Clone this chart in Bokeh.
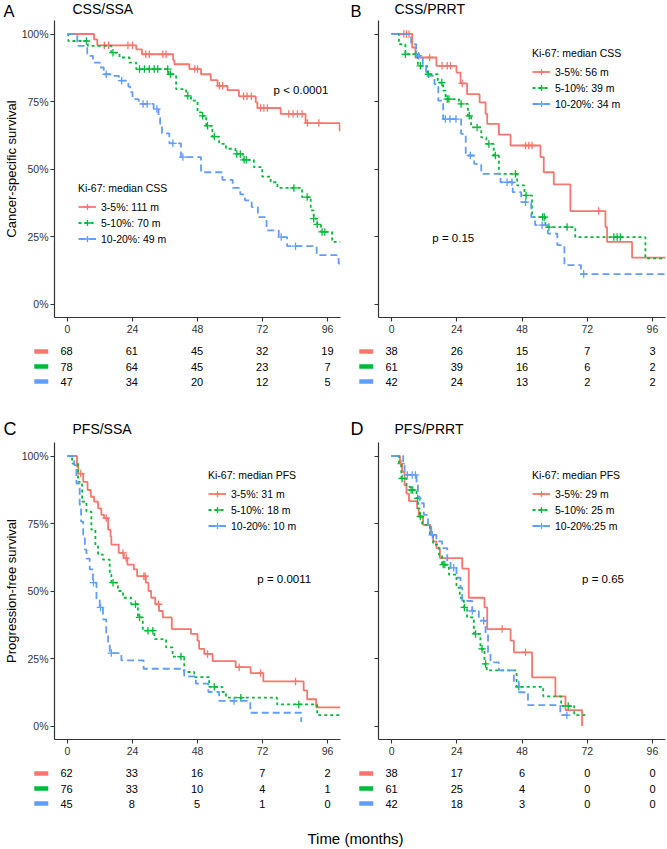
import numpy as np
from bokeh.plotting import figure
from bokeh.models import (Range1d, FixedTicker, NumeralTickFormatter, Legend, LegendItem,
                          Label, CustomJSTickFormatter)
from bokeh.layouts import column, row
from bokeh.embed import file_html
from bokeh.resources import INLINE
from bokeh.core.properties import value

FONT = "Liberation Sans"
groups = ["3-5%", "5-10%", "10-20%"]
colors = ["#F8766D", "#00BA38", "#619CFF"]
dashes = ["solid", "3 3", "7 4"]
risk_times = [0, 24, 48, 72, 96]

# ---------------- Panel A : CSS / SSA ----------------
a_red_t = [0, 9.8, 11.0, 25.4, 27.5, 39.0, 39.5, 45.0, 49.3, 52.9, 55.4, 59.1, 63.3, 69.5, 70.1, 78.7, 87.9, 100.5]
a_red_s = [1.0, 0.980, 0.958, 0.943, 0.925, 0.903, 0.888, 0.870, 0.851, 0.829, 0.808, 0.792, 0.769, 0.747, 0.726, 0.704, 0.670, 0.642]
a_red_c = [13.6, 15.2, 22.3, 24.0, 28.9, 30.2, 35.2, 36.4, 47.0, 48.0, 56.1, 57.3, 65.0, 66.3, 67.9, 71.3, 72.5, 73.8, 81.7, 83.3, 84.9, 86.6, 88.6, 92.8]
a_grn_t = [0, 0.3, 7.5, 16.2, 19.2, 22.9, 25.4, 37.3, 40.1, 43.8, 45.6, 48.0, 49.5, 51.2, 53.5, 56.0, 58.5, 62.0, 64.8, 68.8, 71.9, 75.0, 77.5, 86.6, 89.8, 90.9, 92.2, 93.6, 97.7]
a_grn_s = [1.0, 0.974, 0.956, 0.931, 0.913, 0.894, 0.870, 0.851, 0.796, 0.771, 0.753, 0.710, 0.697, 0.660, 0.620, 0.593, 0.575, 0.556, 0.534, 0.507, 0.472, 0.451, 0.430, 0.396, 0.347, 0.316, 0.295, 0.267, 0.230]
a_grn_c = [7.0, 16.8, 26.6, 28.4, 30.2, 32.0, 33.3, 37.0, 38.0, 44.4, 49.9, 51.7, 54.2, 62.5, 63.8, 65.2, 66.0, 83.6, 88.5, 90.9, 92.2, 94.0, 95.0]
a_blu_t = [0, 3.6, 7.3, 9.4, 12.0, 13.4, 16.5, 19.0, 22.5, 23.2, 24.0, 26.3, 31.8, 33.6, 34.2, 34.9, 37.6, 41.9, 49.3, 57.2, 61.0, 63.8, 65.5, 68.0, 70.3, 73.5, 78.0, 81.1, 92.0, 100.1]
a_blu_s = [1.0, 0.956, 0.919, 0.894, 0.876, 0.851, 0.845, 0.827, 0.805, 0.785, 0.759, 0.741, 0.722, 0.690, 0.660, 0.632, 0.595, 0.544, 0.488, 0.460, 0.430, 0.406, 0.384, 0.359, 0.322, 0.273, 0.248, 0.214, 0.181, 0.150]
a_blu_c = [14.3, 20.0, 27.9, 29.4, 33.0, 38.9, 42.6, 78.9, 84.2]
a_ends = [100.8, 100.8, 100.8]
a_risk = [[68, 61, 45, 32, 19], [78, 64, 45, 23, 7], [47, 34, 20, 12, 5]]
a_labels = ["3-5%: 111 m", "5-10%: 70 m", "10-20%: 49 m"]

# ---------------- Panel B : CSS / PRRT ----------------
b_red_t = [0, 7.6, 8.8, 16.5, 23.9, 25.4, 27.8, 32.4, 34.6, 35.2, 39.5, 43.8, 54.8, 56.0, 59.7, 65.8, 78.7, 79.3, 88.5]
b_red_s = [1.0, 0.950, 0.913, 0.882, 0.857, 0.817, 0.777, 0.747, 0.704, 0.667, 0.627, 0.587, 0.544, 0.488, 0.443, 0.344, 0.285, 0.230, 0.172]
b_red_c = [4.5, 5.5, 6.4, 14.0, 18.6, 20.5, 21.7, 26.0, 49.3, 50.5, 51.7, 76.2]
b_grn_t = [0, 2.7, 5.1, 9.7, 13.1, 17.0, 19.0, 19.9, 24.8, 28.1, 29.3, 33.0, 34.9, 37.6, 39.5, 46.2, 48.9, 51.7, 56.6, 67.6, 93.4]
b_grn_s = [1.0, 0.962, 0.925, 0.882, 0.851, 0.820, 0.790, 0.759, 0.741, 0.697, 0.654, 0.617, 0.593, 0.550, 0.482, 0.439, 0.402, 0.322, 0.285, 0.248, 0.169]
b_grn_c = [5.1, 9.0, 10.6, 13.6, 18.5, 20.5, 21.1, 25.6, 28.6, 31.5, 35.8, 38.2, 45.6, 49.5, 55.6, 56.2, 57.9, 64.6, 81.8, 83.0, 84.2]
b_blu_t = [0, 7.2, 9.1, 11.5, 12.7, 15.8, 17.2, 19.0, 25.6, 27.3, 30.4, 33.0, 40.1, 44.6, 47.7, 51.4, 52.8, 57.5, 61.0, 63.6, 69.7]
b_blu_s = [1.0, 0.962, 0.919, 0.882, 0.845, 0.814, 0.753, 0.685, 0.630, 0.550, 0.519, 0.482, 0.451, 0.414, 0.377, 0.322, 0.292, 0.261, 0.218, 0.144, 0.111]
b_blu_c = [10.0, 19.8, 21.5, 23.7, 29.0, 42.5, 44.3, 49.3, 55.4, 70.7]
b_ends = [100.8, 100.8, 100.8]
b_risk = [[38, 26, 15, 7, 3], [61, 39, 16, 6, 2], [42, 24, 13, 2, 2]]
b_labels = ["3-5%: 56 m", "5-10%: 39 m", "10-20%: 34 m"]

# ---------------- Panel C : PFS / SSA ----------------
c_red_t = [0, 3.5, 4.0, 5.8, 7.4, 8.6, 9.8, 11.3, 12.5, 13.5, 15.0, 15.9, 16.2, 18.9, 20.8, 22.1, 24.5, 25.7, 28.9, 29.9, 30.9, 32.4, 33.8, 35.2, 38.5, 45.6, 48.0, 48.6, 50.5, 53.6, 62.1, 67.6, 72.3, 87.2, 88.5, 91.8]
c_red_s = [1.0, 0.960, 0.935, 0.904, 0.874, 0.849, 0.831, 0.806, 0.782, 0.770, 0.727, 0.702, 0.672, 0.641, 0.622, 0.598, 0.580, 0.555, 0.531, 0.500, 0.475, 0.451, 0.426, 0.402, 0.359, 0.341, 0.316, 0.286, 0.267, 0.240, 0.218, 0.196, 0.165, 0.132, 0.099, 0.069]
c_red_c = [4.9, 14.3, 20.5, 21.7, 28.2, 28.7, 33.6, 51.7, 63.4, 71.3, 84.2]
c_grn_t = [0, 1.7, 3.9, 5.4, 7.0, 8.8, 10.3, 11.3, 13.1, 15.6, 16.2, 18.6, 20.5, 23.5, 26.0, 27.8, 32.1, 36.4, 38.8, 43.1, 46.8, 52.3, 57.2, 58.5, 77.4, 92.2]
c_grn_s = [1.0, 0.972, 0.904, 0.831, 0.794, 0.727, 0.665, 0.635, 0.616, 0.561, 0.531, 0.500, 0.475, 0.451, 0.402, 0.353, 0.322, 0.291, 0.257, 0.200, 0.181, 0.145, 0.126, 0.105, 0.080, 0.040]
c_grn_c = [16.8, 25.1, 26.6, 29.7, 31.5, 41.9, 54.2, 64.0, 85.4]
c_blu_t = [0, 2.5, 3.3, 4.5, 5.0, 5.8, 6.4, 7.0, 8.2, 9.4, 10.7, 11.9, 13.1, 14.3, 15.0, 15.6, 19.9, 28.1, 43.1, 47.4, 52.0, 56.0, 67.5, 86.3]
c_blu_s = [1.0, 0.966, 0.898, 0.819, 0.757, 0.696, 0.653, 0.620, 0.580, 0.531, 0.469, 0.439, 0.395, 0.341, 0.305, 0.270, 0.243, 0.212, 0.184, 0.157, 0.126, 0.093, 0.049, 0.015]
c_blu_c = [9.6, 12.2, 16.2, 61.5]
c_ends = [100.8, 100.8, 86.3]
c_risk = [[62, 33, 16, 7, 2], [76, 33, 10, 4, 1], [45, 8, 5, 1, 0]]
c_labels = ["3-5%: 31 m", "5-10%: 18 m", "10-20%: 10 m"]

# ---------------- Panel D : PFS / PRRT ----------------
d_red_t = [0, 3.1, 3.9, 4.8, 5.5, 6.4, 9.4, 10.0, 11.6, 14.3, 15.3, 16.5, 17.8, 26.0, 28.4, 34.2, 35.2, 43.8, 45.0, 51.7, 60.3, 64.0, 70.1]
d_red_s = [1.0, 0.972, 0.941, 0.892, 0.861, 0.833, 0.806, 0.776, 0.745, 0.708, 0.684, 0.659, 0.622, 0.583, 0.475, 0.439, 0.359, 0.316, 0.273, 0.180, 0.110, 0.059, 0.0]
d_red_c = [3.5, 40.7, 49.3]
d_grn_t = [0, 2.7, 3.6, 5.5, 7.0, 9.2, 9.7, 10.4, 11.3, 14.1, 15.3, 17.4, 18.6, 21.1, 23.9, 25.1, 26.6, 27.8, 30.3, 32.7, 34.2, 35.0, 46.0, 55.8, 62.4, 67.2]
d_grn_s = [1.0, 0.972, 0.917, 0.886, 0.874, 0.843, 0.806, 0.776, 0.745, 0.708, 0.672, 0.635, 0.598, 0.561, 0.512, 0.475, 0.439, 0.402, 0.341, 0.286, 0.230, 0.206, 0.145, 0.110, 0.074, 0.040]
d_grn_c = [3.9, 7.2, 7.8, 9.6, 10.6, 19.0, 19.6, 26.8, 30.9, 33.3, 34.6, 46.8, 65.0]
d_blu_t = [0, 4.3, 4.8, 9.2, 9.7, 10.4, 11.9, 13.4, 14.6, 16.5, 18.6, 20.5, 21.7, 23.9, 25.4, 26.0, 29.7, 32.1, 34.6, 35.5, 36.4, 39.5, 45.0, 46.8, 50.2, 62.1]
d_blu_s = [1.0, 0.966, 0.930, 0.904, 0.849, 0.825, 0.782, 0.745, 0.708, 0.684, 0.659, 0.610, 0.586, 0.549, 0.512, 0.463, 0.426, 0.390, 0.341, 0.270, 0.236, 0.206, 0.165, 0.125, 0.077, 0.040]
d_blu_c = [5.8, 7.6, 8.8, 15.0, 22.9, 29.7, 33.9, 64.5]
d_ends = [70.1, 71.5, 65.8]
d_risk = [[38, 17, 6, 0, 0], [61, 25, 4, 0, 0], [42, 18, 3, 0, 0]]
d_labels = ["3-5%: 29 m", "5-10%: 25 m", "10-20%:25 m"]

# ---------------- layout constants ----------------
FW, FH, AXH, RH = 287, 297, 20, 58
XMIN, XMAX = -4.8, 100.8
YMIN, YMAX = -0.05, 1.05
LB_L, RB_L = 53, 10
LB_R, RB_R = 28, 1
PPM = FW / (XMAX - XMIN)
W_L = LB_L + FW + RB_L
W_R = LB_R + FW + RB_R
TOTAL_W = W_L + W_R
AXIS_COL = "#333333"


def surv_at(t, s, x):
    idx = np.searchsorted(np.asarray(t), np.asarray(x), side="right") - 1
    return np.asarray(s)[idx]


def km_fig(curves, cens, ends, labels, leg_title, leg_loc, ptext, pxy, ylabel):
    left = ylabel is not None
    lb = LB_L if left else LB_R
    rb = RB_L if left else RB_R
    p = figure(width=lb + FW + rb, height=FH + AXH, title=None,
               x_range=Range1d(XMIN, XMAX), y_range=Range1d(YMIN, YMAX),
               output_backend="svg", toolbar_location=None,
               min_border_left=lb, min_border_right=rb,
               min_border_top=0, min_border_bottom=AXH)
    p.grid.visible = False
    p.outline_line_color = None
    p.background_fill_color = "white"
    p.border_fill_color = "white"
    p.xaxis.ticker = FixedTicker(ticks=risk_times)
    p.yaxis.ticker = FixedTicker(ticks=[0, 0.25, 0.5, 0.75, 1.0])
    p.yaxis.formatter = NumeralTickFormatter(format="0%")
    for ax in (p.xaxis[0], p.yaxis[0]):
        ax.axis_line_color = AXIS_COL
        ax.axis_line_width = 1.2
        ax.major_tick_line_color = AXIS_COL
        ax.major_tick_line_width = 1.1
        ax.major_tick_out = 4
        ax.major_tick_in = 0
        ax.minor_tick_out = 0
        ax.minor_tick_in = 0
        ax.major_label_standoff = 2
        ax.major_label_text_font = FONT
        ax.major_label_text_font_size = "10.5px"
        ax.major_label_text_color = "#333333"
    p.xaxis.major_label_standoff = 3
    if left:
        p.yaxis.axis_label = ylabel
        p.yaxis.axis_label_text_font = FONT
        p.yaxis.axis_label_text_font_size = "13px"
        p.yaxis.axis_label_text_font_style = "normal"
        p.yaxis.axis_label_text_color = "black"
        p.yaxis.axis_label_standoff = 0
    else:
        p.yaxis.formatter = CustomJSTickFormatter(code="return ''")

    items = []
    for (t, s), c, e, col, dsh, lab in zip(curves, cens, ends, colors, dashes, labels):
        xs = list(t) + [e]
        ys = list(s) + [s[-1]]
        lr = p.step(xs, ys, mode="after", line_color=col, line_width=1.8, line_dash=dsh)
        cr = p.scatter(c, surv_at(t, s, c), marker="cross", size=7.5,
                       line_color=col, line_width=1.3)
        items.append(LegendItem(label=lab, renderers=[lr, cr]))

    leg = Legend(items=items, location=leg_loc, title=leg_title,
                 title_text_font=FONT, title_text_font_size="10.5px",
                 title_text_font_style="normal", title_text_color="black",
                 title_standoff=5,
                 label_text_font=FONT, label_text_font_size="10.5px", label_text_color="black",
                 glyph_width=18, glyph_height=15, label_height=15, label_standoff=5,
                 spacing=1, padding=0, margin=0,
                 border_line_color=None, background_fill_alpha=0)
    p.add_layout(leg)
    p.add_layout(Label(x=pxy[0], y=pxy[1], text=ptext, text_font=FONT,
                       text_font_size="11.5px", text_color="black",
                       text_align="left", text_baseline="middle"))
    return p


def risk_fig(counts, lb, rb):
    r = figure(width=lb + FW + rb, height=RH, title=None,
               x_range=Range1d(XMIN - lb / PPM, XMAX),
               y_range=Range1d(2.933, -0.933),
               x_axis_location=None, y_axis_location=None,
               output_backend="svg", toolbar_location=None,
               min_border_left=0, min_border_right=rb,
               min_border_top=0, min_border_bottom=0)
    r.grid.visible = False
    r.outline_line_color = None
    rows = [0, 1, 2]
    r.rect(x=[-9.3] * 3, y=rows, width=14 / PPM, height=0.3,
           fill_color=colors, line_color=None)
    xs, ys, txt = [], [], []
    for i, cnt in enumerate(counts):
        for tt, n in zip(risk_times, cnt):
            xs.append(tt)
            ys.append(i)
            txt.append(str(n))
    r.text(x=xs, y=ys, text=txt, text_align="center", text_baseline="middle",
           text_font=value(FONT), text_font_size="11px", text_color="black")
    return r


def text_fig(width, height, entries):
    h = figure(width=width, height=height, title=None,
               x_range=Range1d(0, width), y_range=Range1d(height, 0),
               x_axis_location=None, y_axis_location=None,
               output_backend="svg", toolbar_location=None,
               min_border_left=0, min_border_right=0,
               min_border_top=0, min_border_bottom=0)
    h.grid.visible = False
    h.outline_line_color = None
    for (x, y, t, size, align) in entries:
        h.text(x=[x], y=[y], text=[t], text_align=align, text_baseline="middle",
               text_font=value(FONT), text_font_size=size, text_color="black")
    return h


BX = W_L + LB_R  # B frame left within the row
head_top = text_fig(TOTAL_W, 20, [
    (LB_L - 50, 10.8, "A", "16.5px", "left"),
    (LB_L + 19, 8.5, "CSS/SSA", "14px", "left"),
    (BX - 28, 10.8, "B", "16.5px", "left"),
    (BX + 16, 8.5, "CSS/PRRT", "14px", "left"),
])
head_bot = text_fig(TOTAL_W, 47, [
    (LB_L - 50, 33.5, "C", "18px", "left"),
    (LB_L + 19, 33.5, "PFS/SSA", "14px", "left"),
    (BX - 28, 33.5, "D", "18px", "left"),
    (BX + 16, 33.5, "PFS/PRRT", "14px", "left"),
])
foot = text_fig(TOTAL_W, 31, [
    (LB_L + 302, 21, "Time (months)", "15px", "center"),
])

pA = km_fig([(a_red_t, a_red_s), (a_grn_t, a_grn_s), (a_blu_t, a_blu_s)],
            [a_red_c, a_grn_c, a_blu_c], a_ends, a_labels,
            "Ki-67: median CSS", (24, 71), "p < 0.0001", (76.1, 0.792),
            "Cancer-specific survival")
pB = km_fig([(b_red_t, b_red_s), (b_grn_t, b_grn_s), (b_blu_t, b_blu_s)],
            [b_red_c, b_grn_c, b_blu_c], b_ends, b_labels,
            "Ki-67: median CSS", (154, 206), "p = 0.15", (15.0, 0.245), None)
pC = km_fig([(c_red_t, c_red_s), (c_grn_t, c_grn_s), (c_blu_t, c_blu_s)],
            [c_red_c, c_grn_c, c_blu_c], c_ends, c_labels,
            "Ki-67: median PFS", (154, 206), "p = 0.0011", (70.1, 0.545),
            "Progression-free survival")
pD = km_fig([(d_red_t, d_red_s), (d_grn_t, d_grn_s), (d_blu_t, d_blu_s)],
            [d_red_c, d_grn_c, d_blu_c], d_ends, d_labels,
            "Ki-67: median PFS", (154, 206), "p = 0.65", (70.1, 0.545), None)

rA = risk_fig(a_risk, LB_L, RB_L)
rB = risk_fig(b_risk, LB_R, RB_R)
rC = risk_fig(c_risk, LB_L, RB_L)
rD = risk_fig(d_risk, LB_R, RB_R)

layout = column(head_top, row(pA, pB), row(rA, rB),
                head_bot, row(pC, pD), row(rC, rD), foot)

open("out.html", "w").write(file_html(layout, INLINE))
